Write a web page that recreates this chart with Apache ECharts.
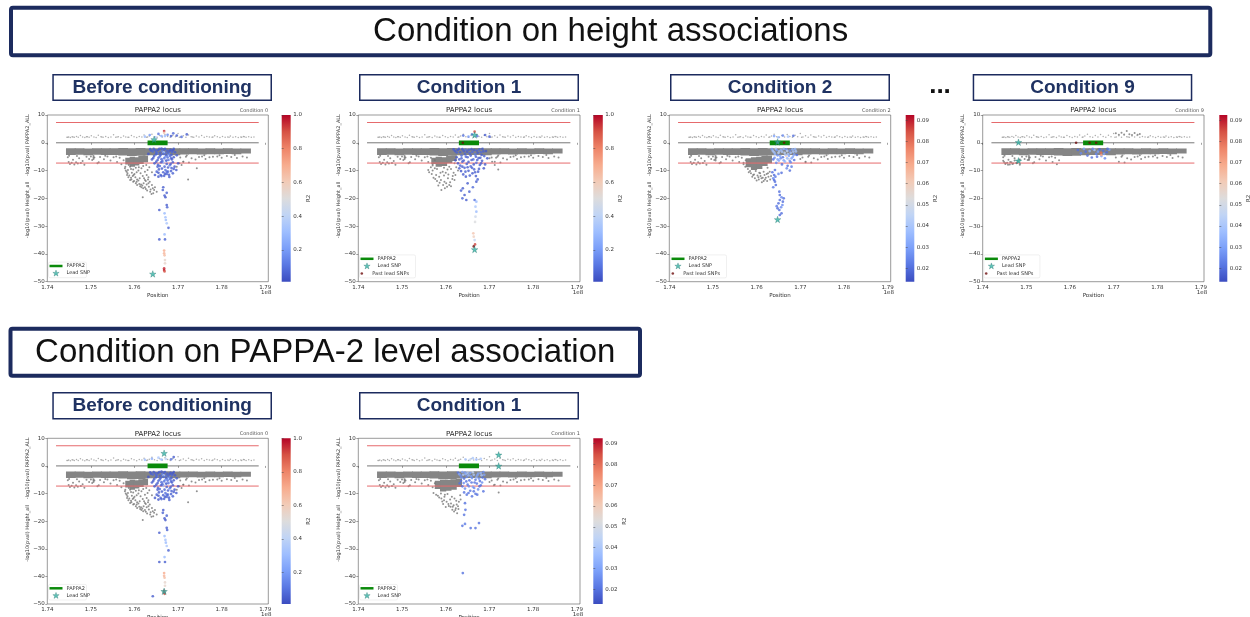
<!DOCTYPE html>
<html><head><meta charset="utf-8">
<script src="https://cdn.jsdelivr.net/npm/echarts@6.0.0/dist/echarts.min.js"></script>
<style>html,body{margin:0;padding:0;background:#fff;}#c{width:1250px;height:617px;}</style>
</head><body><div id="c"></div>
<script>
// ---------------- DATA ----------------
const sectionTitles = ['Condition on height associations', 'Condition on PAPPA-2 level association'];
const panelHeaders = ['Before conditioning', 'Condition 1', 'Condition 2', 'Condition 9', 'Before conditioning', 'Condition 1'];
const conditionTags = ['Condition 0', 'Condition 1', 'Condition 2', 'Condition 9', 'Condition 0', 'Condition 1'];
const plotTitle = 'PAPPA2 locus';
const xTicks = [1.74, 1.75, 1.76, 1.77, 1.78, 1.79];
const yTicks = [-50, -40, -30, -20, -10, 0, 10];
const cbTicksWide = [0.2, 0.4, 0.6, 0.8, 1.0];
const cbTicksNarrow = [0.02, 0.03, 0.04, 0.05, 0.06, 0.07, 0.08, 0.09];
const cbRanges = [[0.012, 1.0], [0.012, 1.0], [0.0137, 0.0924], [0.0137, 0.0924], [0.012, 1.0], [0.013, 0.0925]];
const sigLevel = 7.3;
const lineSpan = [1.742, 1.7885];
const geneSpan = [1.7630, 1.7676];

// dense band of non-associated SNPs (height side): [x0, x1, top, bottom]
const bandChunks = [
 [1.7444,1.7464,-2.0,-4.4],[1.7464,1.7484,-2.0,-4.3],[1.7484,1.7504,-2.1,-4.5],[1.7504,1.7524,-2.0,-4.3],
 [1.7524,1.7544,-2.0,-4.4],[1.7544,1.7564,-2.0,-4.4],[1.7564,1.7584,-1.9,-4.6],[1.7584,1.7604,-2.0,-4.8],
 [1.7604,1.7624,-1.9,-4.7],[1.7624,1.7644,-2.0,-4.5],[1.7644,1.7664,-2.0,-4.4],[1.7664,1.7684,-1.9,-4.4],
 [1.7684,1.7704,-2.0,-4.5],[1.7704,1.7724,-2.0,-4.2],[1.7724,1.7744,-2.0,-4.1],[1.7744,1.7764,-2.1,-4.2],
 [1.7764,1.7784,-2.0,-4.1],[1.7784,1.7804,-2.1,-4.1],[1.7804,1.7824,-2.0,-4.0],[1.7824,1.7844,-2.1,-4.1],
 [1.7844,1.7866,-2.1,-3.9]
];
const p1Cluster = [[1.7580,1.7590,-5.4,-7.8],[1.7590,1.7600,-5.0,-8.6],[1.7600,1.7610,-5.2,-8.2],[1.7610,1.7620,-4.8,-7.6],[1.7620,1.7630,-4.6,-7.0]];
const p2Cluster = [[1.7568,1.7578,-5.4,-7.6],[1.7578,1.7590,-5.0,-8.6],[1.7590,1.7602,-5.2,-8.4],[1.7602,1.7614,-4.8,-7.4],[1.7614,1.7624,-4.6,-6.6]];
const p3Cluster = [[1.7576,1.7588,-5.6,-8.8],[1.7588,1.7600,-5.2,-9.8],[1.7600,1.7612,-5.0,-9.4],[1.7612,1.7624,-4.8,-8.4],[1.7624,1.7634,-4.6,-7.4]];
const p4Cluster = [];
const p6Cluster = [[1.7576,1.7588,-5.4,-8.4],[1.7588,1.7600,-5.0,-9.3],[1.7600,1.7612,-5.0,-9.0],[1.7612,1.7624,-4.8,-8.6],[1.7624,1.7636,-4.6,-7.6]];

// sparse PAPPA2_ALL points (positive side)
const topGray = [
 [1.7445,2.0],[1.7447,2.0],[1.7449,2.1],[1.7453,1.9],[1.7457,2.2],[1.7459,2.1],[1.7462,2.0],[1.7467,2.3],[1.7471,2.0],
 [1.7476,2.6],[1.7481,2.1],[1.7486,1.9],[1.7490,2.2],[1.7492,2.2],[1.7496,2.0],[1.7501,2.5],[1.7507,2.1],[1.7512,1.9],
 [1.7517,2.7],[1.7523,2.2],[1.7525,2.1],[1.7528,2.0],[1.7534,2.3],[1.7540,1.9],[1.7546,2.1],[1.7552,2.9],[1.7557,2.0],
 [1.7560,2.1],[1.7563,2.2],[1.7569,1.9],[1.7575,2.4],[1.7580,2.1],[1.7585,2.0],[1.7587,2.0],[1.7593,2.6],[1.7599,2.2],
 [1.7605,1.9],[1.7611,2.3],[1.7617,2.1],[1.7622,2.8],[1.7628,2.0],[1.7630,2.1],[1.7634,2.4],[1.7640,3.1],[1.7646,2.2],
 [1.7652,2.0],[1.7658,2.6],[1.7664,2.1],[1.7670,3.0],[1.7676,2.3],[1.7682,2.0],[1.7688,2.7],[1.7694,2.2],[1.7700,3.3],
 [1.7703,2.0],[1.7706,2.1],[1.7712,2.5],[1.7718,2.0],[1.7724,2.8],[1.7730,2.2],[1.7733,2.1],[1.7736,2.0],[1.7742,2.4],
 [1.7748,2.1],[1.7754,2.6],[1.7760,2.0],[1.7766,2.3],[1.7772,2.1],[1.7778,2.0],[1.7780,2.1],[1.7784,2.5],[1.7790,2.2],
 [1.7796,1.9],[1.7802,2.3],[1.7808,2.0],[1.7814,2.1],[1.7817,2.0],[1.7820,2.4],[1.7826,2.0],[1.7832,2.2],[1.7838,1.9],
 [1.7844,2.1],[1.7846,2.0],[1.7850,2.3],[1.7852,2.2],[1.7856,2.0],[1.7862,2.2],[1.7868,2.0],[1.7874,2.1]
];
// sparse height points just below the band
const bottomGray = [
 [1.7447,-5.2],[1.7449,-6.9],[1.7452,-7.6],[1.7456,-7.2],[1.7459,-6.1],[1.7462,-7.8],[1.7466,-7.0],[1.7470,-7.5],
 [1.7473,-5.6],[1.7477,-7.3],[1.7481,-6.6],[1.7485,-7.9],[1.7490,-5.0],[1.7496,-5.8],[1.7503,-6.2],[1.7506,-4.8],
 [1.7506,-5.3],[1.7506,-5.8],[1.7508,-5.3],[1.7515,-7.4],[1.7518,-7.0],[1.7521,-5.1],[1.7530,-5.9],[1.7538,-4.9],
 [1.7545,-6.4],[1.7552,-5.2],[1.7560,-6.9],[1.7566,-5.4],[1.7570,-7.7],[1.7575,-6.3],[1.7705,-5.3],[1.7712,-6.8],
 [1.7718,-5.0],[1.7725,-7.1],[1.7731,-5.6],[1.7740,-6.0],[1.7748,-5.1],[1.7755,-4.9],[1.7763,-5.8],[1.7772,-5.2],
 [1.7780,-5.0],[1.7790,-4.9],[1.7800,-5.4],[1.7812,-4.8],[1.7822,-5.1],[1.7835,-5.5],[1.7848,-4.9],[1.7858,-5.3],
 [1.7450,-4.7],[1.7468,-4.8],[1.7500,-4.9],[1.7533,-4.7],[1.7558,-4.9],[1.7720,-4.6],[1.7760,-4.5],[1.7795,-4.5],[1.7830,-4.4]
];
// panel-specific grey points
const p1Gray = [
 [1.7578,-9.2],[1.7582,-10.4],[1.7583,-11.6],[1.7586,-12.4],[1.7590,-13.4],[1.7593,-13.2],[1.7597,-14.0],[1.7603,-14.6],
 [1.7606,-15.2],[1.7613,-15.6],[1.7616,-16.0],[1.7620,-16.4],[1.7624,-16.0],[1.7619,-19.6],[1.7590,-8.6],[1.7597,-9.6],
 [1.7609,-10.0],[1.7616,-9.2],[1.7624,-10.4],[1.7628,-11.6],[1.7632,-12.4],[1.7624,-13.4],[1.7635,-14.0],[1.7632,-14.6],
 [1.7640,-15.2],[1.7637,-16.8],[1.7645,-17.0],[1.7643,-18.2],[1.7651,-17.6],[1.7647,-16.0],[1.7708,-8.0],[1.7723,-13.2],
 [1.7743,-9.2],[1.7703,-7.4],[1.7697,-8.6],[1.7712,-6.8],[1.7600,-11.2],[1.7612,-12.8],[1.7587,-8.0],[1.7579,-8.6],
 [1.7585,-9.8],[1.7603,-9.0],[1.7620,-8.4],[1.7634,-8.8],[1.7630,-9.8],[1.7640,-10.6],[1.7606,-13.2],[1.7628,-15.0],
 [1.7580,-10.0],[1.7584,-11.0],[1.7588,-11.8],[1.7592,-12.6],[1.7596,-12.0],[1.7599,-13.8],[1.7602,-12.4],[1.7605,-14.0],
 [1.7609,-13.6],[1.7611,-14.8],[1.7615,-15.0],[1.7618,-15.4],[1.7621,-14.6],[1.7626,-16.6],[1.7629,-17.2],[1.7633,-15.8],
 [1.7636,-17.6],[1.7639,-18.4],[1.7642,-16.4],[1.7594,-10.8],[1.7598,-11.6],[1.7605,-10.6],[1.7614,-11.0],[1.7619,-12.0],
 [1.7622,-12.8],[1.7626,-13.8],[1.7631,-13.2],[1.7592,-9.4],[1.7610,-8.8],[1.7627,-8.0]
];
const p2Gray = [
 [1.7589,-13.4],[1.7597,-14.0],[1.7601,-14.6],[1.7608,-15.2],[1.7612,-15.6],[1.7593,-10.4],[1.7578,-11.6],[1.7585,-12.2],
 [1.7605,-12.8],[1.7616,-12.0],[1.7620,-13.4],[1.7575,-9.2],[1.7566,-8.8],[1.7560,-9.8],[1.7612,-9.4],[1.7600,-10.8],
 [1.7583,-15.4],[1.7590,-17.0],[1.7598,-16.4],[1.7606,-11.4],[1.7700,-5.6],[1.7706,-6.8],[1.7712,-8.0],[1.7720,-9.6],
 [1.7715,-5.4],[1.7624,-8.8],[1.7628,-10.0],[1.7570,-8.2],[1.7580,-9.4],[1.7596,-9.0],[1.7608,-8.6],[1.7620,-7.4],
 [1.7562,-10.6],[1.7568,-11.2],[1.7572,-12.6],[1.7576,-13.0],[1.7580,-13.8],[1.7586,-14.4],[1.7594,-15.2],[1.7603,-15.8],
 [1.7610,-14.2],[1.7615,-13.0],[1.7570,-10.0],[1.7588,-10.8],[1.7596,-11.8],[1.7604,-9.6],[1.7618,-10.8],[1.7622,-11.6]
];
const p3Gray = [
 [1.7592,-11.6],[1.7604,-12.4],[1.7611,-12.8],[1.7619,-13.2],[1.7623,-11.2],[1.7631,-13.2],[1.7627,-12.2],[1.7582,-10.6],
 [1.7587,-11.0],[1.7598,-10.2],[1.7608,-11.0],[1.7616,-10.4],[1.7570,-7.2],[1.7574,-8.6],[1.7625,-9.0],[1.7630,-10.4],
 [1.7600,-13.6],[1.7612,-14.2],[1.7700,-5.8],[1.7712,-7.0],[1.7506,-6.4],[1.7590,-12.2],[1.7606,-10.8],[1.7618,-11.6],
 [1.7580,-9.4],[1.7585,-10.2],[1.7594,-11.4],[1.7602,-11.8],[1.7609,-12.0],[1.7614,-12.6],[1.7621,-12.6],[1.7626,-11.0],
 [1.7633,-12.0],[1.7596,-12.8],[1.7605,-13.2],[1.7616,-13.8],[1.7624,-13.8]
];
const p4Gray = [
 [1.7705,3.4],[1.7712,2.9],[1.7718,3.6],[1.7724,3.0],[1.7730,4.2],[1.7736,3.1],[1.7742,2.8],[1.7748,3.5],[1.7755,2.9],
 [1.7760,3.2],[1.7447,-6.5],[1.7452,-7.4],[1.7458,-7.9],[1.7463,-6.9],[1.7468,-7.6],[1.7473,-6.4],[1.7478,-7.2],
 [1.7485,-6.0],[1.7506,-6.2]
];
const p6Gray = [
 [1.7615,-15.9],[1.7619,-16.5],[1.7623,-15.3],[1.7607,-14.5],[1.7592,-12.9],[1.7600,-14.9],[1.7626,-17.1],[1.7585,-11.4],
 [1.7578,-10.4],[1.7597,-11.2],[1.7610,-12.2],[1.7620,-11.8],[1.7630,-13.0],[1.7633,-10.6],[1.7604,-10.2],[1.7589,-10.0],
 [1.7572,-9.8],[1.7612,-13.6],[1.7618,-14.2],[1.7721,-9.6],[1.7700,-5.8],[1.7710,-7.0],[1.7594,-13.8],[1.7628,-14.6],
 [1.7582,-10.8],[1.7590,-11.8],[1.7596,-12.4],[1.7602,-13.0],[1.7606,-13.8],[1.7611,-14.8],[1.7616,-14.8],[1.7622,-16.0],
 [1.7625,-14.0],[1.7629,-15.6],[1.7634,-12.2],[1.7598,-10.4],[1.7614,-11.2],[1.7624,-12.6]
];

// LD-coloured points: [x, y, R2]
const cond0HeightColored = [
 [1.7636,-2.3,.05],[1.7642,-3.1,.08],[1.7648,-2.6,.06],[1.7652,-3.8,.1],[1.7657,-2.2,.04],[1.7660,-4.4,.07],[1.7664,-3.0,.12],
 [1.7668,-2.4,.05],[1.7671,-3.6,.09],[1.7675,-2.8,.06],[1.7679,-4.1,.15],[1.7683,-2.5,.05],[1.7686,-3.3,.07],[1.7690,-2.2,.04],
 [1.7645,-4.8,.05],[1.7655,-5.4,.06],[1.7662,-5.9,.08],[1.7670,-5.1,.2],[1.7678,-6.2,.1],[1.7684,-5.6,.07],[1.7650,-6.8,.05],
 [1.7666,-7.2,.3],[1.7674,-7.6,.06],[1.7681,-8.1,.12],[1.7688,-7.0,.05],[1.7658,-8.4,.07],[1.7663,-9.3,.05],[1.7671,-9.8,.1],
 [1.7677,-10.4,.08],[1.7685,-9.1,.06],[1.7692,-8.6,.05],[1.7655,-10.8,.04],[1.7660,-11.6,.06],[1.7668,-11.9,.05],
 [1.7674,-11.2,.07],[1.7680,-12.3,.05],[1.7688,-11.0,.06],[1.7696,-9.8,.05],[1.7700,-7.4,.04],[1.7640,-6.0,.05],
 [1.7632,-4.0,.04],[1.7697,-4.5,.05],[1.7667,-3.4,.35],[1.7672,-6.6,.4],[1.7676,-4.7,.3],
 [1.7638,-2.8,.06],[1.7644,-2.2,.05],[1.7650,-3.3,.07],[1.7654,-2.6,.05],[1.7659,-3.6,.06],[1.7662,-2.1,.04],[1.7666,-4.0,.08],
 [1.7670,-2.2,.06],[1.7673,-4.5,.05],[1.7677,-3.5,.07],[1.7681,-2.9,.05],[1.7685,-4.3,.06],[1.7688,-2.7,.04],[1.7693,-3.4,.05],
 [1.7643,-5.5,.05],[1.7649,-4.2,.06],[1.7653,-6.2,.05],[1.7658,-4.9,.07],[1.7664,-6.6,.06],[1.7668,-5.6,.1],[1.7673,-6.4,.05],
 [1.7676,-5.3,.08],[1.7682,-4.8,.06],[1.7686,-6.0,.05],[1.7690,-5.2,.04],[1.7646,-7.4,.05],[1.7654,-7.9,.06],[1.7661,-7.0,.05],
 [1.7669,-8.6,.07],[1.7677,-8.9,.05],[1.7683,-7.6,.06],[1.7656,-9.6,.05],[1.7666,-10.6,.06],[1.7679,-11.5,.05],
 [1.7684,-10.2,.06],[1.7690,-9.4,.05],
 [1.7653,-8.6,.05],[1.7651,-10.4,.06],[1.7647,-11.6,.05],[1.7655,-12.2,.04],[1.7662,-12.0,.06],[1.7670,-11.2,.05],
 [1.7674,-10.4,.07],[1.7666,-16.0,.05],[1.7665,-17.0,.06],[1.7669,-19.0,.05],[1.7671,-19.6,.04],[1.7674,-18.0,.06],
 [1.7674,-22.4,.05],[1.7675,-23.2,.06],[1.7657,-24.2,.05],[1.7669,-25.4,.3],[1.7671,-26.8,.32],[1.7672,-27.8,.3],
 [1.7674,-29.0,.35],[1.7678,-30.6,.06],[1.7657,-34.8,.05],[1.7670,-34.8,.06],[1.7669,-33.0,.3],[1.7668,-38.8,.7],
 [1.7668,-39.8,.68],[1.7669,-40.5,.65],[1.7670,-42.2,.55],[1.7670,-43.4,.55],[1.7668,-45.2,.95],[1.7668,-45.8,.98],
 [1.7669,-46.3,.9]
];
const p1TopColored = [
 [1.7624,2.2,.30],[1.7635,2.8,.20],[1.7648,2.0,.35],[1.7655,3.2,.10],[1.7662,2.4,.25],[1.7668,4.2,.95],[1.7668,3.6,.62],
 [1.7670,2.4,.30],[1.7676,2.9,.15],[1.7684,2.4,.05],[1.7689,3.4,.08],[1.7697,2.6,.05],[1.7708,2.1,.10],[1.7720,3.0,.05]
];
const p5TopColored = [
 [1.7624,2.2,.30],[1.7640,2.6,.25],[1.7655,3.0,.35],[1.7662,2.3,.30],[1.7672,2.5,.40],[1.7684,2.4,.10],[1.7690,3.2,.05],
 [1.7642,-47.2,.05]
];
const p2Colored = [
 [1.7640,2.6,.1],[1.7652,2.2,.2],[1.7660,3.0,.15],[1.7666,4.0,.9],[1.7672,2.4,.1],[1.7690,2.8,.05],[1.7700,2.2,.05],
 [1.7618,-2.4,.05],[1.7625,-3.5,.06],[1.7630,-2.2,.04],[1.7636,-4.6,.08],[1.7641,-3.0,.05],[1.7646,-2.5,.1],[1.7650,-5.2,.06],
 [1.7655,-3.8,.07],[1.7659,-2.3,.05],[1.7663,-6.0,.09],[1.7667,-4.2,.12],[1.7671,-2.8,.06],[1.7675,-5.5,.05],[1.7680,-3.4,.08],
 [1.7684,-2.2,.05],[1.7688,-4.8,.06],[1.7692,-3.0,.04],[1.7622,-6.3,.05],[1.7628,-7.4,.04],[1.7633,-8.2,.06],[1.7638,-6.8,.05],
 [1.7643,-9.0,.07],[1.7648,-7.6,.06],[1.7652,-10.1,.05],[1.7657,-8.5,.08],[1.7661,-11.0,.05],[1.7665,-9.6,.06],[1.7670,-7.2,.1],
 [1.7674,-10.4,.05],[1.7678,-8.0,.06],[1.7683,-6.5,.05],[1.7687,-9.2,.04],[1.7640,-11.4,.05],[1.7635,-10.2,.04],
 [1.7646,-12.2,.05],[1.7655,-11.8,.06],[1.7669,-12.0,.05],[1.7690,-7.8,.05],[1.7695,-5.6,.04],
 [1.7621,-3.0,.05],[1.7627,-2.6,.04],[1.7633,-3.4,.06],[1.7638,-2.3,.05],[1.7644,-4.0,.07],[1.7649,-3.2,.05],[1.7653,-2.5,.06],
 [1.7657,-4.6,.05],[1.7661,-3.3,.08],[1.7665,-2.6,.05],[1.7669,-5.0,.06],[1.7673,-3.6,.05],[1.7677,-2.4,.07],[1.7682,-4.4,.05],
 [1.7686,-3.1,.06],[1.7625,-5.2,.05],[1.7631,-6.0,.05],[1.7636,-5.6,.06],[1.7641,-6.4,.05],[1.7646,-5.0,.07],[1.7652,-6.9,.05],
 [1.7659,-6.2,.06],[1.7664,-7.8,.05],[1.7672,-6.2,.06],[1.7679,-5.4,.05],[1.7631,-9.2,.05],[1.7638,-8.6,.05],[1.7645,-10.4,.06],
 [1.7650,-8.8,.05],[1.7660,-9.0,.06],[1.7667,-10.6,.05],[1.7676,-9.4,.06],[1.7681,-7.4,.05],
 [1.7639,-16.4,.05],[1.7635,-17.2,.06],[1.7643,-18.8,.05],[1.7638,-20.0,.07],[1.7647,-20.6,.05],[1.7654,-17.6,.06],
 [1.7650,-14.6,.05],[1.7662,-16.0,.08],[1.7670,-14.0,.05],[1.7673,-13.2,.06],[1.7666,-20.6,.1],[1.7670,-21.2,.3],
 [1.7668,-23.0,.35],[1.7670,-24.8,.3],[1.7668,-26.6,.45],[1.7667,-28.5,.5],[1.7663,-32.6,.62],[1.7664,-33.8,.58],
 [1.7666,-35.0,.42],[1.7667,-36.6,.92]
];
const p3Colored = [
 [1.7640,2.4,.03],[1.7650,2.0,.035],[1.7660,2.6,.025],[1.7672,2.2,.04],[1.7684,2.5,.02],
 [1.7635,-2.3,.03],[1.7640,-3.4,.04],[1.7644,-2.2,.045],[1.7648,-4.5,.025],[1.7652,-3.0,.04],[1.7656,-2.5,.035],
 [1.7660,-5.2,.02],[1.7664,-3.6,.045],[1.7668,-2.4,.03],[1.7672,-4.1,.04],[1.7676,-2.8,.025],[1.7680,-5.6,.03],
 [1.7684,-3.2,.04],[1.7688,-2.3,.035],[1.7692,-4.4,.02],[1.7638,-6.0,.02],[1.7645,-7.2,.025],[1.7651,-6.4,.03],
 [1.7658,-7.8,.02],[1.7665,-6.8,.035],[1.7671,-8.3,.02],[1.7678,-7.0,.025],[1.7686,-6.2,.02],[1.7668,-4.8,.06],
 [1.7674,-5.9,.05],
 [1.7637,-2.9,.04],[1.7642,-4.0,.035],[1.7646,-2.6,.03],[1.7650,-3.6,.045],[1.7654,-4.8,.03],[1.7658,-3.2,.04],
 [1.7662,-2.2,.035],[1.7666,-4.3,.04],[1.7670,-3.0,.045],[1.7674,-4.7,.03],[1.7678,-3.6,.04],[1.7682,-2.4,.035],
 [1.7686,-4.2,.03],[1.7690,-3.1,.04],[1.7641,-5.4,.025],[1.7648,-6.0,.03],[1.7655,-5.6,.025],[1.7662,-6.3,.03],
 [1.7670,-5.6,.035],[1.7676,-6.6,.025],[1.7683,-5.0,.03],
 [1.7642,-9.8,.02],[1.7640,-11.6,.02],[1.7638,-12.8,.025],[1.7642,-14.0,.02],[1.7644,-15.2,.02],
 [1.7638,-16.0,.022],[1.7636,-10.6,.02],[1.7650,-11.2,.025],[1.7657,-10.8,.02],[1.7669,-9.2,.025],[1.7676,-10.0,.02],
 [1.7680,-8.6,.022],[1.7652,-17.6,.02],[1.7653,-18.8,.02],[1.7657,-19.6,.025],[1.7653,-20.6,.02],[1.7650,-21.8,.02],
 [1.7646,-22.8,.022],[1.7648,-23.6,.02],[1.7652,-24.2,.02],[1.7656,-23.2,.025],[1.7660,-21.2,.02],[1.7657,-25.4,.02],
 [1.7653,-26.0,.02],[1.7662,-20.0,.02],[1.7659,-22.4,.025],[1.7640,-13.4,.02],[1.7643,-12.2,.022]
];
const p4Colored = [
 [1.7618,-2.6,.02],[1.7625,-3.8,.025],[1.7632,-2.2,.03],[1.7640,-4.6,.02],[1.7645,-3.0,.035],[1.7650,-5.3,.02],
 [1.7656,-2.6,.04],[1.7660,-4.0,.025],[1.7664,-3.2,.03],[1.7668,-2.4,.02],[1.7672,-4.8,.03],[1.7671,-3.6,.08],
 [1.7672,-4.4,.07],[1.7676,-2.8,.02],[1.7680,-5.6,.025],[1.7684,-3.4,.02],[1.7690,-2.5,.03],
 [1.7636,-3.2,.02],[1.7652,-2.2,.025],[1.7662,-5.0,.02],[1.7678,-4.0,.03],[1.7686,-2.2,.02]
];
const p6Colored = [
 [1.7645,2.4,.04],[1.7655,2.2,.045],[1.7662,2.8,.04],[1.7670,2.3,.035],[1.7680,2.6,.04],
 [1.7628,-2.4,.02],[1.7634,-3.5,.025],[1.7638,-2.2,.03],[1.7642,-4.6,.02],[1.7646,-3.0,.035],[1.7650,-2.5,.04],
 [1.7654,-5.2,.02],[1.7658,-3.8,.03],[1.7662,-2.3,.045],[1.7666,-6.0,.02],[1.7670,-4.2,.035],[1.7674,-2.8,.03],
 [1.7678,-5.5,.02],[1.7682,-3.4,.04],[1.7686,-2.2,.025],[1.7690,-4.8,.02],[1.7632,-6.3,.02],[1.7638,-7.4,.02],
 [1.7644,-8.2,.025],[1.7650,-6.8,.02],[1.7656,-9.0,.02],[1.7662,-7.6,.03],[1.7668,-10.1,.02],[1.7674,-8.5,.025],
 [1.7680,-7.0,.02],[1.7686,-9.2,.02],[1.7660,-11.0,.02],[1.7648,-10.4,.02],
 [1.7631,-3.0,.03],[1.7636,-4.2,.025],[1.7640,-3.2,.04],[1.7644,-2.4,.03],[1.7648,-4.0,.025],[1.7652,-3.4,.035],
 [1.7656,-2.6,.03],[1.7660,-4.4,.025],[1.7664,-3.2,.04],[1.7668,-5.0,.02],[1.7672,-3.4,.03],[1.7676,-4.6,.025],
 [1.7680,-2.6,.035],[1.7684,-4.2,.02],[1.7688,-3.2,.03],[1.7635,-5.4,.02],[1.7641,-6.2,.025],[1.7647,-5.6,.02],
 [1.7653,-7.4,.025],[1.7659,-6.0,.02],[1.7665,-8.0,.025],[1.7671,-6.4,.02],[1.7677,-7.4,.02],[1.7683,-6.0,.025],
 [1.7642,-9.6,.02],[1.7652,-9.8,.02],[1.7664,-9.2,.02],[1.7672,-10.4,.02],
 [1.7644,-13.5,.02],[1.7645,-15.9,.02],[1.7642,-17.7,.02],[1.7638,-21.7,.02],[1.7644,-21.0,.022],[1.7657,-22.5,.02],
 [1.7668,-22.5,.02],[1.7676,-20.7,.02],[1.7639,-38.8,.02]
];
const leadSNPs = [
 [[1.7645,1.2],[1.7642,-47.2]],
 [[1.7666,2.8],[1.7666,-38.4]],
 [[1.7648,0.3],[1.7648,-27.6]],
 [[1.7482,0.2],[1.7482,-6.5]],
 [[1.7668,4.6],[1.7668,-45.4]],
 [[1.7721,4.0],[1.7721,0.0]]
];
const pastLeadSNPs = [
 [],
 [[1.7639,0.0],[1.7664,-37.3]],
 [[1.7648,0.0],[1.7663,0.0]],
 [[1.7614,0.0],[1.7645,0.0],[1.7660,0.0]],
 [],
 []
];

// ---------------- BUILD ----------------
const panelGray = [p1Gray, p2Gray, p3Gray, p4Gray, p1Gray, p6Gray];
const panelCluster = [p1Cluster, p2Cluster, p3Cluster, p4Cluster, p1Cluster, p6Cluster];
const panelColored = [
  p1TopColored.concat(cond0HeightColored), p2Colored, p3Colored, p4Colored,
  p5TopColored.concat(cond0HeightColored), p6Colored
];
const cbTicks = [cbTicksWide, cbTicksWide, cbTicksNarrow, cbTicksNarrow, cbTicksWide, cbTicksNarrow];

const coolwarm = ['#3b4cc0','#5977e3','#7b9ff9','#9ebeff','#c0d4f5','#dddcdc','#f2cbb7','#f7ac8e','#ee8468','#d65244','#b40426'];
const STAR = 'path://M50,0L61.2,34.5L97.6,34.5L68.2,55.9L79.4,90.5L50,69.1L20.6,90.5L31.8,55.9L2.4,34.5L38.8,34.5Z';
const GENE_ICON = 'path://M0,0H26V5H0Z';
const PLOT_FONT = 'DejaVu Sans';
const SLIDE_FONT = 'Liberation Sans, Arial, sans-serif';
const NAVY = '#1c2b5e';

// layout (pixels)
const L = [
  {left:47.3, top:115, w:221, h:166.7, cbLeft:281.7, cbW:9},
  {left:358.3, top:115, w:221.7, h:166.7, cbLeft:593.3, cbW:9.5},
  {left:669.3, top:115, w:221.4, h:166.7, cbLeft:905.7, cbW:8.6},
  {left:982.7, top:115, w:221.3, h:166.7, cbLeft:1219.3, cbW:8},
  {left:47.3, top:438.3, w:221, h:165.7, cbLeft:281.7, cbW:9},
  {left:358.3, top:438.3, w:221.7, h:165.7, cbLeft:593.3, cbW:9.4}
];
const headerBoxes = [
  {x0:52.3, x1:272, y0:74, y1:101}, {x0:359, x1:579, y0:74, y1:101},
  {x0:670, x1:890, y0:74, y1:101}, {x0:972.7, x1:1192.3, y0:74, y1:101},
  {x0:52.3, x1:272, y0:392, y1:419.5}, {x0:359, x1:579, y0:392, y1:419.5}
];

const grids = [], xAxes = [], yAxes = [], series = [], visualMaps = [], legends = [], graphics = [];
const tickFont = {fontSize:5.5, color:'#333', fontFamily:PLOT_FONT};
const minusFmt = v => (v < 0 ? '\u2212' + Math.abs(v) : String(v));

function renderChunk(params, api) {
  const a = api.coord([api.value(0), api.value(2)]);
  const b = api.coord([api.value(1), api.value(3)]);
  return {type:'rect', shape:{x:a[0]-0.5, y:a[1], width:b[0]-a[0]+1, height:b[1]-a[1]},
    style:{fill:'#858585', stroke:null, lineWidth:0}};
}

L.forEach((p, i) => {
  grids.push({left:p.left, top:p.top, width:p.w, height:p.h, show:true, borderColor:'#555', borderWidth:0.6, backgroundColor:'#fff', containLabel:false, outerBoundsMode:'none'});
  xAxes.push({gridIndex:i, type:'value', min:1.74, max:1.7907,
    name:'Position', nameLocation:'middle', nameGap:11, nameTextStyle:{fontSize:5.5, color:'#333', fontFamily:PLOT_FONT},
    axisLine:{show:false}, splitLine:{show:false},
    axisTick:{show:true, length:2, customValues:xTicks, lineStyle:{color:'#444', width:0.5}},
    axisLabel:Object.assign({customValues:xTicks, margin:2.5, formatter:v=>v.toFixed(2)}, tickFont)});
  yAxes.push({gridIndex:i, type:'value', min:-50, max:10,
    axisLine:{show:false}, splitLine:{show:false},
    axisTick:{show:true, length:2, customValues:yTicks, lineStyle:{color:'#444', width:0.5}},
    axisLabel:Object.assign({customValues:yTicks, margin:2.5, formatter:minusFmt}, tickFont)});
});
L.forEach((p, i) => {
  const gi = L.length + i;
  const stops = coolwarm.map((c, j) => ({offset:j/(coolwarm.length-1), color:c}));
  grids.push({left:p.cbLeft, top:p.top, width:p.cbW, height:p.h, show:true, borderWidth:0, containLabel:false, outerBoundsMode:'none',
    backgroundColor:{type:'linear', x:0, y:1, x2:0, y2:0, colorStops:stops}});
  xAxes.push({gridIndex:gi, type:'value', min:0, max:1, show:false});
  const dec = cbTicks[i] === cbTicksWide ? 1 : 2;
  yAxes.push({gridIndex:gi, type:'value', position:'right', min:cbRanges[i][0], max:cbRanges[i][1],
    name:'R2', nameLocation:'middle', nameRotate:90, nameGap:dec === 1 ? 15 : 17,
    nameTextStyle:{fontSize:5.5, color:'#333', fontFamily:PLOT_FONT},
    axisLine:{show:false}, splitLine:{show:false},
    axisTick:{show:true, length:2, customValues:cbTicks[i], lineStyle:{color:'#444', width:0.5}},
    axisLabel:Object.assign({customValues:cbTicks[i], margin:2.5, formatter:v=>v.toFixed(dec)}, tickFont)});
});

L.forEach((p, i) => {
  const ax = {xAxisIndex:i, yAxisIndex:i};
  series.push(Object.assign({type:'custom', renderItem:renderChunk, data:bandChunks.concat(panelCluster[i]),
    encode:{x:[0,1], y:[2,3]}, silent:true, z:1, clip:true}, ax));
  series.push(Object.assign({type:'scatter', data:bottomGray.concat(panelGray[i]), symbolSize:2,
    itemStyle:{color:'#767676'}, silent:true, z:2}, ax));
  series.push(Object.assign({type:'scatter', data:topGray, symbolSize:1.5,
    itemStyle:{color:'#9a9a9a'}, silent:true, z:2}, ax));
  [sigLevel, -sigLevel].forEach(s => series.push(Object.assign({type:'line', data:[[lineSpan[0], s],[lineSpan[1], s]],
    symbol:'none', lineStyle:{color:'#e66a6c', width:1}, silent:true, z:3}, ax)));
  series.push(Object.assign({type:'line', data:[[lineSpan[0], 0],[lineSpan[1], 0]], symbol:'none',
    lineStyle:{color:'#555', width:0.8}, silent:true, z:3}, ax));
  series.push(Object.assign({type:'line', name:'PAPPA2', data:[[geneSpan[0], 0],[geneSpan[1], 0]], symbol:'none',
    lineStyle:{color:'#0a8a0a', width:4.7, cap:'butt'}, itemStyle:{color:'#0a8a0a'}, silent:true, z:4}, ax));
  const colIdx = series.length;
  series.push(Object.assign({type:'scatter', data:panelColored[i], symbolSize:2.7, silent:true, z:5}, ax));
  visualMaps.push({type:'continuous', show:false, seriesIndex:colIdx, dimension:2,
    min:cbRanges[i][0], max:cbRanges[i][1], inRange:{color:coolwarm}});
  series.push(Object.assign({type:'scatter', name:'Past lead SNPs', data:pastLeadSNPs[i], symbolSize:2.6,
    itemStyle:{color:'#6e0d0d'}, silent:true, z:6}, ax));
  series.push(Object.assign({type:'scatter', name:'Lead SNP', data:leadSNPs[i], symbol:STAR, symbolSize:6.5,
    itemStyle:{color:'#35b3a6', borderColor:'#1d6d66', borderWidth:0.4}, silent:true, z:7}, ax));

  const hasPast = [1,2,3].indexOf(i) >= 0;
  const bottom = p.top + p.h;
  const rows = hasPast ? [bottom-22.4, bottom-15, bottom-7.7] : [bottom-15.2, bottom-7.7];
  graphics.push({type:'rect', shape:{x:p.left+1.2, y:rows[0]-4.4, width:hasPast?56:38, height:(hasPast?23:15.6), r:1.5},
    style:{fill:'#fff', stroke:'#e0e0e0', lineWidth:0.5}, z:50});
  const common = {orient:'vertical', left:p.left+2.2, padding:0, itemWidth:13, itemGap:1.4, selectedMode:false, z:60,
    textStyle:{fontSize:5, color:'#333', fontFamily:PLOT_FONT, padding:[0,0,0,-1]}};
  legends.push(Object.assign({}, common, {top:rows[0]-3, itemHeight:6, data:[
    {name:'PAPPA2', icon:GENE_ICON, itemStyle:{color:'#0a8a0a'}},
    {name:'Lead SNP', icon:STAR, itemStyle:{color:'#35b3a6', borderColor:'#1d6d66', borderWidth:0.4}}]}));
  if (hasPast) legends.push(Object.assign({}, common, {top:rows[2]-3, itemHeight:2.6, data:[
    {name:'Past lead SNPs', icon:'circle', itemStyle:{color:'#6e0d0d'}}]}));

  graphics.push({type:'text', x:p.left + p.w/2, y:p.top - 4.5, z:50,
    style:{text:plotTitle, fontSize:7, fontFamily:PLOT_FONT, fill:'#222', align:'center', verticalAlign:'middle'}});
  graphics.push({type:'text', x:p.left + p.w, y:p.top - 4.5, z:50,
    style:{text:conditionTags[i], fontSize:5, fontFamily:PLOT_FONT, fill:'#555', align:'right', verticalAlign:'middle'}});
  graphics.push({type:'text', x:p.left + p.w - 2, y:bottom + 11, z:50,
    style:{text:'1e8', fontSize:5.5, fontFamily:PLOT_FONT, fill:'#333', align:'center', verticalAlign:'middle'}});
  graphics.push({type:'text', x:p.left - 20, y:p.top + 30, rotation:Math.PI/2, z:50,
    style:{text:'-log10(pval) PAPPA2_ALL', fontSize:5, fontFamily:PLOT_FONT, fill:'#333', align:'center', verticalAlign:'middle'}});
  graphics.push({type:'text', x:p.left - 20, y:p.top + 95, rotation:Math.PI/2, z:50,
    style:{text:'-log10(pval) Height_all', fontSize:5, fontFamily:PLOT_FONT, fill:'#333', align:'center', verticalAlign:'middle'}});

  const hb = headerBoxes[i];
  graphics.push({type:'rect', shape:{x:hb.x0+0.75, y:hb.y0+0.75, width:hb.x1-hb.x0-1.5, height:hb.y1-hb.y0-1.5},
    style:{fill:'#fff', stroke:NAVY, lineWidth:1.5}, z:40});
  graphics.push({type:'text', x:(hb.x0+hb.x1)/2, y:(hb.y0+hb.y1)/2 + 0.5, z:41,
    style:{text:panelHeaders[i], fontSize:19, fontWeight:'bold', fontFamily:SLIDE_FONT, fill:'#1f3262', align:'center', verticalAlign:'middle'}});
});

const sectionBoxes = [{x0:9, x1:1212.3, y0:5.7, y1:57.3}, {x0:8.5, x1:642, y0:326.7, y1:377.7}];
sectionBoxes.forEach((b, k) => {
  graphics.push({type:'rect', shape:{x:b.x0+2, y:b.y0+2, width:b.x1-b.x0-4, height:b.y1-b.y0-4, r:2},
    style:{fill:'#fff', stroke:NAVY, lineWidth:4}, z:40});
  graphics.push({type:'text', x:(b.x0+b.x1)/2, y:(b.y0+b.y1)/2 + 0.5, z:41,
    style:{text:sectionTitles[k], fontSize:33, fontFamily:SLIDE_FONT, fill:'#111', align:'center', verticalAlign:'middle'}});
});
graphics.push({type:'text', x:940, y:86, z:41,
  style:{text:'...', fontSize:26, fontWeight:'bold', fontFamily:SLIDE_FONT, fill:'#111', align:'center', verticalAlign:'middle'}});

const chart = echarts.init(document.getElementById('c'), null, {renderer:'canvas'});
chart.setOption({
  animation:false, backgroundColor:'#fff',
  grid:grids, xAxis:xAxes, yAxis:yAxes, series:series, visualMap:visualMaps, legend:legends,
  graphic:{elements:graphics}
});
</script></body></html>
